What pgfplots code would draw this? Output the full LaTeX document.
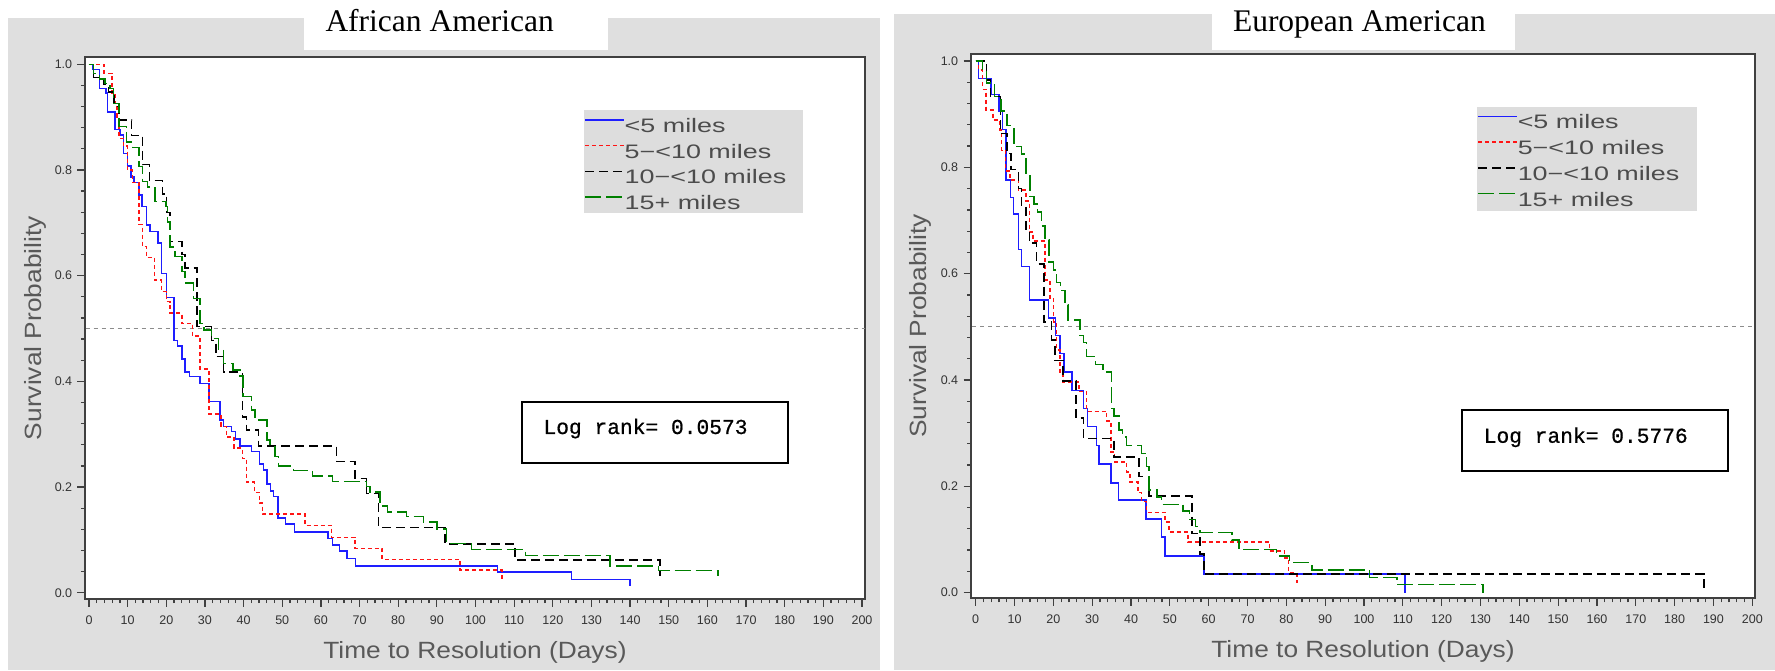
\documentclass[border=0pt]{standalone}
\usepackage{fontspec}
\usepackage{pgfplots}
\pgfplotsset{compat=1.18}
\setmainfont{Liberation Sans}
\newfontfamily\titlefont{Liberation Serif}
\newfontfamily\labfont[FakeStretch=1.12]{Liberation Sans}
\newfontfamily\legfont[FakeStretch=1.38]{Liberation Sans}
\newfontfamily\tickfont{Liberation Sans}
\newfontfamily\lrfont[FakeBold=0.7]{Liberation Mono}

\definecolor{panelgray}{RGB}{223,223,223}
\definecolor{leggray}{RGB}{221,221,221}
\definecolor{framegray}{RGB}{64,64,64}
\definecolor{kmblue}{RGB}{30,30,255}
\definecolor{kmred}{RGB}{255,20,20}
\definecolor{kmgreen}{RGB}{0,128,0}

\pgfplotsset{
  km/.style={
    scale only axis, anchor=south west,
    axis background/.style={fill=white},
    no markers,
    axis line style={framegray, line width=0.7pt},
    tick align=outside, tick pos=left,
    tick style={framegray, line width=0.5pt},
    major tick length=3pt, minor tick length=1.6pt,
    xtick={0,10,...,200}, minor x tick num=4,
    ytick={0,0.2,0.4,0.6,0.8,1.0}, minor y tick num=4,
    /pgf/number format/assume math mode=true,
    ticklabel style={font=\tickfont\fontsize{5}{6}\selectfont, text=black!80},
    yticklabel style={xshift=1.4pt, /pgf/number format/.cd, fixed, fixed zerofill, precision=1},
    label style={font=\labfont\fontsize{9.4}{11}\selectfont, text=black!65},
    xlabel={Time to Resolution (Days)},
    ylabel={Survival Probability},
    xlabel style={at={(axis description cs:0.5,0)}, anchor=base, yshift=-23.8pt},
    ylabel style={at={(axis description cs:-0.0563,0.5)}, anchor=base},
    legend image code/.code={\draw[##1] (0pt,5pt) -- (15.5pt,5pt);},
    legend style={fill=none, draw=none, anchor=north west,
      inner xsep=0pt, inner ysep=1.9pt, row sep=0pt,
      font=\legfont\fontsize{7.8}{9}\selectfont, text=black!70,
      cells={anchor=base west},
      nodes={inner sep=0pt, text height=6.8pt, text depth=3.5pt},
      /tikz/every even column/.append style={column sep=2.9pt}},
  },
  kmbluel/.style={const plot, color=kmblue, line width=0.6pt},
  kmredl/.style={const plot, color=kmred, line width=0.6pt, dash pattern=on 1.6pt off 1.2pt},
  kmblackl/.style={const plot, color=black, line width=0.6pt, dash pattern=on 3.6pt off 2pt},
  kmgreenl/.style={const plot, color=kmgreen, line width=0.6pt, dash pattern=on 6.4pt off 2pt},
  medianl/.style={forget plot, color=black!45, line width=0.4pt, dash pattern=on 1.6pt off 1.6pt},
}

\begin{document}
\begin{tikzpicture}
\path[use as bounding box] (0,0) rectangle (710pt,268pt);
\fill[white] (0,0) rectangle (710pt,268pt);
% panel backgrounds and title tabs
\fill[panelgray] (3.2pt,0) rectangle (352pt,260.9pt);
\fill[white] (121.6pt,247.9pt) rectangle (243.2pt,268pt);
\fill[panelgray] (357.6pt,0) rectangle (710pt,262.4pt);
\fill[white] (484.8pt,247.9pt) rectangle (606pt,268pt);
\node[anchor=base west, inner sep=0pt, font=\titlefont\fontsize{12.6}{14}\selectfont] at (130pt,255.4pt) {African American};
\node[anchor=base west, inner sep=0pt, font=\titlefont\fontsize{12.6}{14}\selectfont] at (493pt,255.4pt) {European American};

% ---------------- African American ----------------
\begin{axis}[km,
  at={(34pt,28.4pt)}, width=312pt, height=216.68pt,
  xmin=-1.035, xmax=200.78, ymin=-0.0117, ymax=1.0132,
  legend style={at={(axis description cs:0.6397,0.9027)}},
]
\fill[leggray] (axis description cs:0.6397,0.7121) rectangle (axis description cs:0.9208,0.9027);
\addplot[medianl] coordinates {(-5,0.5) (205,0.5)};
\addplot[kmbluel] coordinates {
(0,1.0) (1.0,0.990) (2.7,0.954) (4.4,0.946) (4.8,0.910) (6.7,0.877) (8.0,0.866)
(8.9,0.831) (9.9,0.808) (10.9,0.787) (11.6,0.776) (12.9,0.753) (13.7,0.731)
(14.9,0.696) (15.8,0.684) (17.8,0.662) (18.8,0.604) (20.1,0.559) (22.0,0.477)
(22.9,0.467) (24.0,0.442) (24.9,0.418) (26.0,0.409) (28.7,0.396) (31.0,0.362)
(33.9,0.327) (34.8,0.315) (36.9,0.305) (37.9,0.291) (39.1,0.278) (42.1,0.267)
(44.1,0.244) (45.1,0.232) (46.1,0.206) (47.0,0.193) (47.8,0.182) (48.9,0.142)
(50.8,0.130) (53.2,0.115) (61.8,0.103) (63.0,0.090) (64.8,0.079) (66.8,0.065)
(69.0,0.051) (105.7,0.039) (124.9,0.025) (140.0,0.025) (140.0,0.012)};
\addlegendentry{<5 miles}
\addplot[kmredl] coordinates {
(0,1.0) (3.9,0.983) (5.9,0.945) (6.7,0.926) (7.2,0.900) (7.8,0.860) (8.9,0.845)
(10.0,0.800) (11.2,0.776) (13.0,0.697) (13.9,0.655) (14.9,0.634) (16.9,0.592)
(18.8,0.570) (20.1,0.551) (21.0,0.529) (24.0,0.510) (26.8,0.486) (28.7,0.423)
(31.0,0.338) (34.1,0.315) (35.6,0.295) (37.5,0.274) (39.7,0.254) (40.8,0.210)
(42.8,0.190) (44.1,0.170) (44.9,0.149) (55.9,0.127) (62.8,0.105) (68.8,0.084)
(75.8,0.063) (96.0,0.043) (106.9,0.043) (106.9,0.021)};
\addlegendentry{5−<10 miles}
\addplot[kmblackl] coordinates {
(0,1.0) (1.1,0.975) (3.7,0.963) (5.0,0.948) (6.5,0.920) (7.7,0.895) (11.0,0.865)
(13.9,0.810) (15.6,0.780) (19.0,0.755) (20.1,0.720) (21.0,0.665) (24.0,0.640)
(24.8,0.615) (27.9,0.504) (31.7,0.477) (32.8,0.447) (34.8,0.418) (39.7,0.333)
(40.8,0.308) (43.9,0.278) (64.1,0.248) (68.8,0.216) (71.8,0.188) (74.9,0.124)
(92.1,0.092) (110.2,0.062) (147.7,0.062) (147.7,0.031)};
\addlegendentry{10−<10 miles}
\addplot[kmgreenl] coordinates {
(0,1.0) (1.1,0.983) (2.7,0.972) (4.1,0.964) (5.4,0.954) (6.3,0.926) (7.8,0.882)
(9.7,0.853) (11.3,0.843) (13.0,0.807) (13.9,0.778) (15.1,0.768) (17.1,0.740)
(19.9,0.731) (20.3,0.702) (21.0,0.654) (22.3,0.636) (24.0,0.608) (24.8,0.586)
(27.0,0.557) (28.7,0.510) (29.8,0.497) (31.7,0.481) (33.5,0.461) (34.8,0.434)
(37.3,0.422) (39.1,0.410) (39.9,0.371) (42.1,0.346) (43.0,0.327) (46.0,0.289)
(46.8,0.277) (48.1,0.258) (49.0,0.240) (52.9,0.231) (57.8,0.221) (63.0,0.211)
(71.8,0.201) (72.7,0.191) (75.3,0.164) (77.2,0.153) (82.2,0.144) (86.5,0.134)
(90.0,0.121) (92.5,0.093) (99.0,0.082) (113.0,0.071) (134.8,0.051) (147.3,0.042)
(162.7,0.042) (162.7,0.031)};
\addlegendentry{15+ miles}
\draw[black, line width=0.8pt] (axis description cs:0.5599,0.2515) rectangle (axis description cs:0.9016,0.3641);
\node[anchor=base west, inner sep=0pt, font=\lrfont\fontsize{8.5}{10}\selectfont] at (axis description cs:0.5872,0.3046) {Log rank= 0.0573};
\end{axis}

% ---------------- European American ----------------
\begin{axis}[km,
  at={(388.4pt,28.68pt)}, width=313.6pt, height=217.84pt,
  xmin=-1.21, xmax=200.70, ymin=-0.0109, ymax=1.0139,
  legend style={at={(axis description cs:0.6454,0.9026)}},
]
\fill[leggray] (axis description cs:0.6454,0.7112) rectangle (axis description cs:0.9260,0.9026);
\addplot[medianl] coordinates {(-5,0.5) (205,0.5)};
\addplot[kmbluel] coordinates {
(0,1.0) (0.7,0.967) (3.9,0.937) (6.0,0.905) (6.9,0.871) (7.8,0.776) (9.0,0.743)
(9.7,0.712) (11.0,0.645) (11.8,0.613) (13.8,0.550) (18.8,0.517) (20.6,0.484)
(21.7,0.450) (22.7,0.415) (24.8,0.380) (27.8,0.346) (28.8,0.312) (31.1,0.277)
(31.8,0.242) (34.8,0.206) (36.8,0.174) (43.9,0.138) (47.8,0.104) (48.7,0.069)
(58.8,0.035) (110.5,0.035) (110.5,0.0)};
\addlegendentry{<5 miles}
\addplot[kmredl] coordinates {
(0,1.0) (0.7,0.983) (1.7,0.947) (2.7,0.908) (4.5,0.889) (6.1,0.870) (6.7,0.832)
(7.7,0.793) (8.8,0.776) (11.0,0.757) (12.9,0.737) (13.8,0.678) (14.8,0.661)
(17.8,0.588) (19.1,0.553) (20.0,0.509) (20.8,0.456) (21.7,0.415) (22.5,0.396)
(26.6,0.378) (28.5,0.341) (33.7,0.323) (34.8,0.264) (35.8,0.246) (38.8,0.227)
(39.7,0.208) (41.8,0.188) (42.7,0.171) (44.0,0.151) (48.7,0.133) (49.8,0.114)
(54.7,0.095) (75.7,0.078) (79.5,0.065) (80.6,0.037) (82.7,0.037) (82.7,0.017)};
\addlegendentry{5−<10 miles}
\addplot[kmblackl] coordinates {
(0,1.0) (2.8,0.964) (3.8,0.933) (6.4,0.864) (8.0,0.826) (9.1,0.796) (11.0,0.760)
(11.8,0.726) (12.9,0.681) (13.8,0.658) (15.7,0.618) (17.6,0.509) (19.5,0.475)
(20.4,0.437) (22.5,0.398) (25.8,0.328) (27.8,0.290) (35.6,0.255) (42.0,0.218)
(44.6,0.182) (55.7,0.111) (57.7,0.072) (58.8,0.035) (187.5,0.035) (187.5,0.0)};
\addlegendentry{10−<10 miles}
\addplot[kmgreenl] coordinates {
(0,1.0) (1.7,0.979) (2.8,0.959) (4.8,0.933) (6.5,0.906) (8.0,0.879) (9.8,0.839)
(11.8,0.825) (12.9,0.785) (14.0,0.745) (15.0,0.731) (15.9,0.716) (17.0,0.690)
(17.8,0.663) (18.9,0.622) (20.0,0.607) (20.8,0.583) (21.9,0.568) (23.0,0.541)
(23.8,0.513) (26.8,0.484) (27.8,0.470) (28.5,0.444) (30.9,0.429) (32.8,0.415)
(35.0,0.346) (35.6,0.332) (36.9,0.306) (37.8,0.293) (38.8,0.277) (42.7,0.262)
(44.0,0.237) (44.6,0.193) (46.7,0.180) (47.8,0.166) (53.4,0.153) (55.1,0.137)
(56.6,0.124) (57.7,0.113) (66.0,0.099) (67.8,0.081) (77.5,0.069) (80.8,0.056)
(86.6,0.042) (101.4,0.028) (108.5,0.015) (130.7,0.015) (130.7,0.0)};
\addlegendentry{15+ miles}
\draw[black, line width=0.8pt] (axis description cs:0.6260,0.2342) rectangle (axis description cs:0.9659,0.3458);
\node[anchor=base west, inner sep=0pt, font=\lrfont\fontsize{8.5}{10}\selectfont] at (axis description cs:0.6534,0.2856) {Log rank= 0.5776};
\end{axis}
\end{tikzpicture}
\end{document}
